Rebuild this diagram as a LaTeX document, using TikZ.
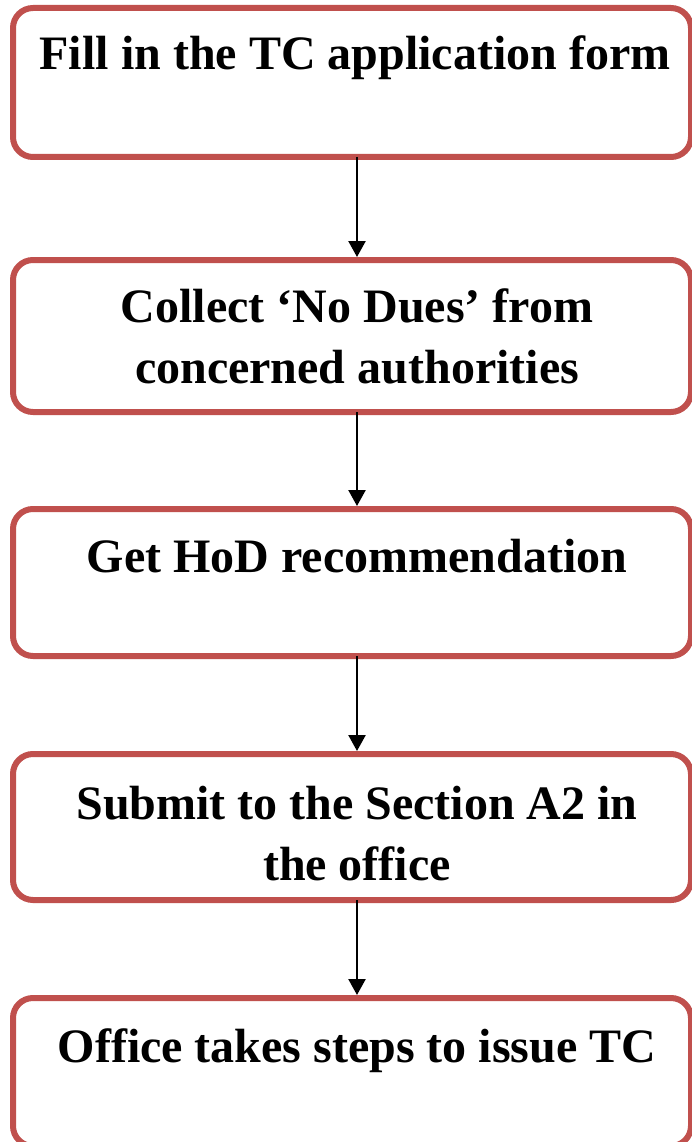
\documentclass[tikz,border=0pt]{standalone}
\usepackage{fontspec}
\setmainfont{Liberation Serif}
\usetikzlibrary{arrows.meta}
\definecolor{boxred}{HTML}{C0504D}
\tikzset{
  stepbox/.style={draw=boxred, line width=6pt, rounded corners=20pt,
    minimum width=678pt, inner sep=0pt, outer sep=0pt, fill=white},
  steptext/.style={anchor=base, align=center, inner sep=0pt,
    font=\bfseries\fontsize{48}{61}\selectfont},
  flow/.style={line width=2.4pt, -{Triangle[width=17pt,length=16pt]}, shorten >=3pt}
}
\begin{document}
\begin{tikzpicture}[x=1pt, y=-1pt]
  \useasboundingbox (0,0) rectangle (692,1142);
  \fill[white] (0,0) rectangle (692,1142);

  % boxes
  \node[stepbox, minimum height=149pt] (b1) at (352,82.5) {};
  \node[stepbox, minimum height=152pt] (b2) at (352,336) {};
  \node[stepbox, minimum height=147pt] (b3) at (352,582.5) {};
  \node[stepbox, minimum height=146pt] (b4) at (352,827) {};
  \node[stepbox, minimum height=148pt] (b5) at (352,1072) {};

  % labels, set from the top of each box (base = last line)
  \node[steptext] (t1) at ([xshift=3pt, yshift=-62pt]b1.north) {Fill in the TC application form};
  \node[steptext] (t2) at ([xshift=5pt, yshift=-123pt]b2.north) {Collect ‘No Dues’ from\\concerned authorities};
  \node[steptext] (t3) at ([xshift=5pt, yshift=-63pt]b3.north) {Get HoD recommendation};
  \node[steptext] (t4) at ([xshift=5pt, yshift=-126pt]b4.north) {Submit to the Section A2 in\\the office};
  \node[steptext] (t5) at ([xshift=5pt, yshift=-64pt]b5.north) {Office takes steps to issue TC};

  % connectors
  \draw[flow] ([xshift=5pt]b1.south) -- ([xshift=5pt]b2.north);
  \draw[flow] ([xshift=5pt]b2.south) -- ([xshift=5pt]b3.north);
  \draw[flow] ([xshift=5pt]b3.south) -- ([xshift=5pt]b4.north);
  \draw[flow] ([xshift=5pt]b4.south) -- ([xshift=5pt]b5.north);
\end{tikzpicture}
\end{document}
